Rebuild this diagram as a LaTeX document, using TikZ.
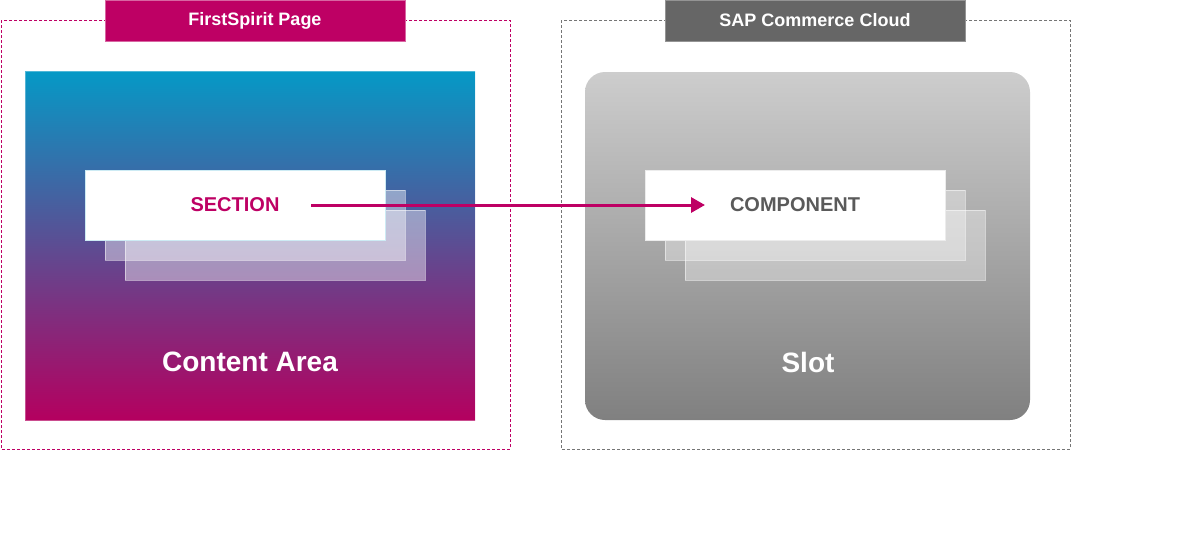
\documentclass[tikz,border=0pt]{standalone}
\usepackage{fontspec}
\setmainfont{Liberation Sans}
\usetikzlibrary{arrows.meta}
\definecolor{fsmagenta}{HTML}{BE0064}
\definecolor{fsblue}{HTML}{0599C6}
\definecolor{sapgray}{HTML}{666666}
\definecolor{slottop}{HTML}{CDCDCD}
\definecolor{slotbot}{HTML}{808080}
\definecolor{comptext}{HTML}{5A5A5A}
\begin{document}
\begin{tikzpicture}[x=1pt,y=-1pt,
    frame/.style={draw,line width=0.8pt,dash pattern=on 3pt off 2pt},
    tag/.style={minimum width=300pt,minimum height=41pt,inner sep=0pt,text=white,font=\bfseries\fontsize{18}{20}\selectfont,line width=1pt},
    card/.style={fill=white,minimum width=300pt,minimum height=70pt,inner sep=0pt,font=\bfseries\fontsize{20}{22}\selectfont},
    ghost/.style={fill=white,fill opacity=0.42,draw=white,draw opacity=0.5,line width=0.8pt,minimum width=300pt,minimum height=70pt,inner sep=0pt},
    areatitle/.style={text=white,font=\bfseries\fontsize{28}{30}\selectfont}]
        \useasboundingbox (0,0) rectangle (1181,541);

        % Rahmen
        \draw[frame,fsmagenta] (1,20) rectangle (510,449);
        \draw[frame,sapgray!90] (561,20) rectangle (1070,449);
        \node[tag,fill=fsmagenta,draw=fsmagenta!60!white] (fstag) at (255,20.5) {FirstSpirit Page};
        \node[tag,fill=sapgray,draw=sapgray!70!white] (saptag) at (815,20.5) {SAP Commerce Cloud};

        % Bereiche
        \node[minimum width=450pt,minimum height=349pt,inner sep=0pt,top color=fsblue,bottom color=fsmagenta!95!black,draw=white,draw opacity=0.3] (area) at (250,245.5) {};
        \node[rounded corners=20pt,minimum width=445pt,minimum height=348pt,inner sep=0pt,top color=slottop,bottom color=slotbot] (slot) at (807.5,246) {};

        % Karten
        \node[ghost] (sec2) at (275,245) {};
        \node[ghost] (sec1) at (255,225) {};
        \node[card,text=fsmagenta,draw=white!80!fsblue,line width=0.8pt] (sec) at (235,205) {SECTION};
        \node[ghost,fill opacity=0.35] (comp2) at (835,245) {};
        \node[ghost,fill opacity=0.35] (comp1) at (815,225) {};
        \node[card,text=comptext,draw=white!85!gray,line width=0.8pt] (comp) at (795,205) {COMPONENT};

        \node[areatitle] (areatxt) at (250,362) {Content Area};
        \node[areatitle] (slottxt) at (808,362) {Slot};

        % Pfeil
        \draw[-{Triangle[length=14pt,width=15pt]},line width=3pt,fsmagenta] ([xshift=76pt]sec.center) -- ([xshift=-90pt]comp.center);
\end{tikzpicture}
\end{document}
